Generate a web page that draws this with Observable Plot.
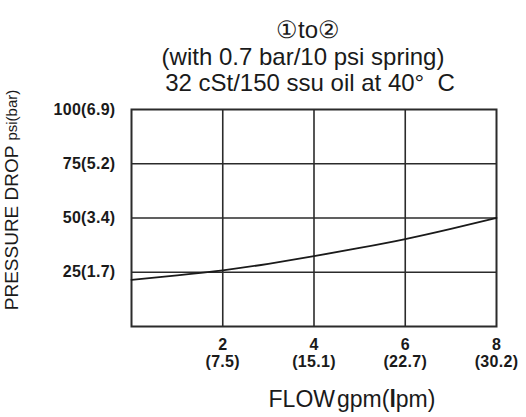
<!DOCTYPE html>
<html>
<head>
<meta charset="utf-8">
<script src="https://cdn.jsdelivr.net/npm/d3@7"></script>
<script src="https://cdn.jsdelivr.net/npm/@observablehq/plot@0.6"></script>
<style>
  html, body { margin: 0; padding: 0; background: #fff; }
  #chart svg { font-family: "Liberation Sans", Arial, Helvetica, sans-serif; }
  #chart svg [aria-label="x-axis tick label"] text,
  #chart svg [aria-label="y-axis tick label"] text { font-weight: bold; letter-spacing: 0.3px; }
</style>
</head>
<body>
<div id="chart"></div>
<script>
// ---- data ----
const flowGpm = [0, 1, 2, 3, 4, 5, 6, 7, 8];
const pressurePsi = [21.5, 23.6, 25.9, 28.9, 32.4, 36.2, 40.3, 45.0, 50.0];

const xTicks = [2, 4, 6, 8];
const xTickLpm = ["7.5", "15.1", "22.7", "30.2"];
const yTicks = [25, 50, 75, 100];
const yTickBar = ["1.7", "3.4", "5.2", "6.9"];

const titleLines = ["\u2460to\u2461", "(with 0.7 bar/10 psi spring)", "32 cSt/150 ssu oil at 40\u00b0  C"];
const titleDx = [-6, -11, -4];
const titleDy = [-88.5, -61.5, -35.5];

const curve = flowGpm.map((x, i) => ({x, y: pressurePsi[i]}));
const titles = titleLines.map((t, i) => ({t, dx: titleDx[i], dy: titleDy[i]}));

const ink = "#2b2b2b";

const plot = Plot.plot({
  width: 526,
  height: 417,
  marginLeft: 131,
  marginRight: 30,
  marginTop: 109,
  marginBottom: 91,
  x: {domain: [0, 8]},
  y: {domain: [0, 100]},
  marks: [
    Plot.gridX([2, 4, 6], {stroke: ink, strokeOpacity: 1, strokeWidth: 1.6}),
    Plot.gridY([25, 50, 75], {stroke: ink, strokeOpacity: 1, strokeWidth: 1.6}),
    Plot.frame({stroke: ink, strokeWidth: 2}),
    Plot.line(curve, {x: "x", y: "y", curve: "natural", stroke: "#1a1a1a", strokeWidth: 1.8}),
    Plot.axisX({
      ticks: xTicks,
      tickSize: 0,
      tickPadding: 11.5,
      tickFormat: (d) => `${d}\n(${xTickLpm[xTicks.indexOf(d)]})`,
      fontSize: 16,
      lineHeight: 1.06,
      fill: "#1a1a1a",
      label: null
    }),
    Plot.axisY({
      ticks: yTicks,
      tickSize: 0,
      tickPadding: 16,
      tickFormat: (d) => `${d}(${yTickBar[yTicks.indexOf(d)]})`,
      fontSize: 16,
      fill: "#1a1a1a",
      label: null
    }),
    ...titles.map((d) => Plot.text([d.t], {
      frameAnchor: "top",
      text: (t) => t,
      dx: d.dx,
      dy: d.dy,
      fontSize: 24,
      fill: "#1a1a1a"
    }))
  ]
});

// axis titles with mixed styles
const svg = d3.select(plot);
const yl = svg.append("text")
  .attr("transform", "translate(11,200) rotate(-90)")
  .attr("text-anchor", "middle")
  .attr("dominant-baseline", "central")
  .attr("fill", "#1a1a1a");
yl.append("tspan").attr("font-size", 19).text("PRESSURE DROP ");
yl.append("tspan").attr("font-size", 15).text("psi(bar)");

const xl = svg.append("text")
  .attr("x", 352)
  .attr("y", 407)
  .attr("text-anchor", "middle")
  .attr("font-size", 23)
  .attr("fill", "#1a1a1a");
xl.append("tspan").text("FLOW");
xl.append("tspan").attr("dx", 2).text("gpm(");
xl.append("tspan").attr("font-weight", "bold").text("l");
xl.append("tspan").text("pm)");

document.getElementById("chart").appendChild(plot);
</script>
</body>
</html>
